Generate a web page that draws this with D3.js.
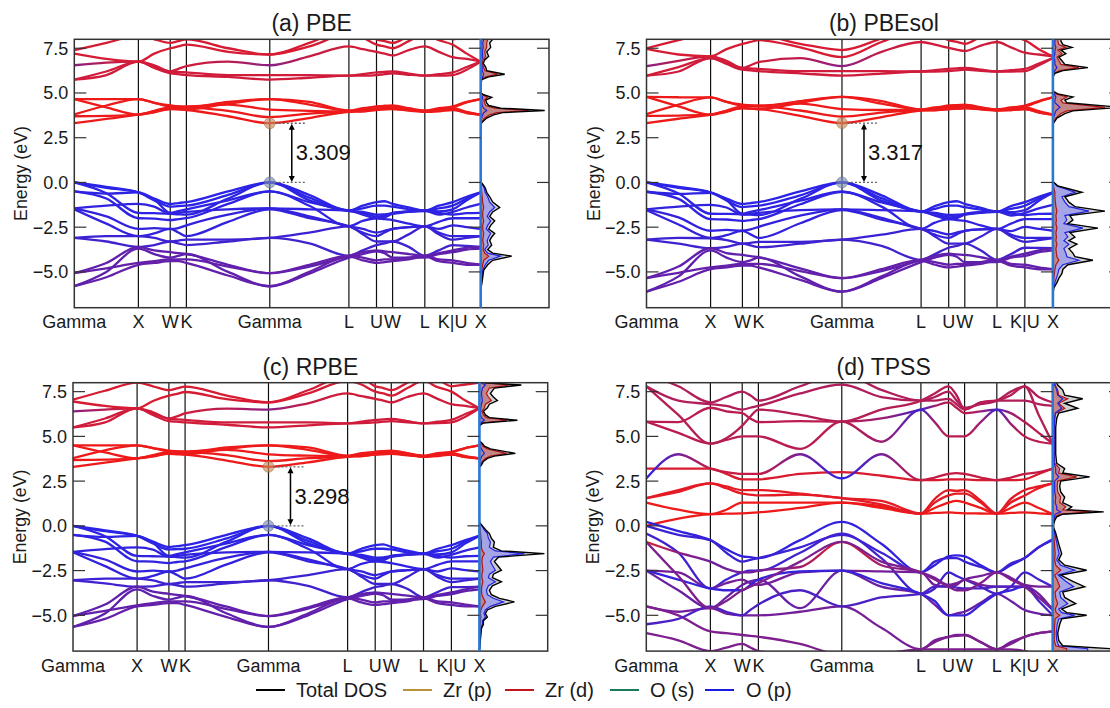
<!DOCTYPE html>
<html><head><meta charset="utf-8">
<script src="https://cdn.jsdelivr.net/npm/d3@7"></script>
<style>
body{margin:0;background:#fff;}
svg{display:block;font-family:"Liberation Sans",Arial,sans-serif;}
</style></head><body>
<svg id="chart" width="1110" height="708"></svg>
<script>
// ---------- DATA ----------
const kLabels = ["Gamma","X","W","K","Gamma","L","U","W","L","K|U","X"];
const kNodes = [0, 0.1577, 0.236, 0.2758, 0.481, 0.6757, 0.7436, 0.7832, 0.8625, 0.9311, 1];
const yTicks = [7.5, 5.0, 2.5, 0.0, -2.5, -5.0];
const yDomain = [-7, 8];
const titles = ["(a) PBE", "(b) PBEsol", "(c) RPBE", "(d) TPSS"];
const gaps = [3.309, 3.317, 3.298, null];
const legendNames = ["Total DOS", "Zr (p)", "Zr (d)", "O (s)", "O (p)"];
const legendColors = ["#000000", "#b8913a", "#c0141e", "#1a7a5a", "#1a1ae0"];

// band energies (eV) sampled at high-symmetry points and segment midpoints
const bandsA = [
[3.31,3.55,3.79,3.95,4.10,4.08,4.05,3.70,3.31,3.60,3.95,3.98,4.05,4.08,4.10,4.02,3.95,3.98,4.05,3.90,3.79],
[3.70,3.72,3.79,4.00,4.20,4.20,4.20,4.00,3.65,3.85,3.97,4.05,4.15,4.18,4.20,4.08,3.97,4.05,4.15,3.95,3.79],
[3.80,4.30,4.66,4.45,4.25,4.25,4.25,4.35,4.07,4.00,3.97,4.10,4.25,4.28,4.25,4.12,3.97,4.10,4.25,4.50,4.66],
[4.66,4.20,3.79,3.92,4.12,4.10,4.08,4.40,4.66,4.35,4.00,3.98,4.08,4.10,4.12,4.05,4.00,4.02,4.08,3.88,3.79],
[4.66,4.66,4.66,4.45,4.30,4.25,4.20,4.50,4.66,4.50,4.02,4.15,4.20,4.28,4.30,4.15,4.02,4.15,4.20,4.48,4.66],
[5.75,6.20,6.75,6.40,6.10,6.05,6.00,5.90,5.75,5.85,5.97,5.97,6.00,6.05,6.10,6.02,5.97,5.97,6.00,6.30,6.75],
[5.75,6.00,6.75,6.50,6.20,6.18,6.15,6.00,6.00,6.00,5.97,6.05,6.15,6.18,6.20,6.08,5.97,6.05,6.15,6.45,6.75],
[6.55,6.70,6.75,6.55,6.20,6.35,6.50,6.75,6.55,7.05,7.60,7.45,7.30,7.20,7.10,7.40,7.60,7.30,7.00,6.90,6.75],
[7.20,6.90,6.75,7.20,7.50,7.60,7.70,7.30,7.15,7.60,8.30,8.10,7.70,7.60,7.50,7.90,8.30,7.95,7.70,7.20,6.75],
[7.40,7.80,8.20,8.00,7.80,7.90,8.00,7.50,7.15,7.80,8.60,8.50,8.00,7.90,7.80,8.20,8.60,8.40,8.00,8.10,8.20],
[0.00,-0.30,-0.56,-0.90,-1.20,-1.15,-1.10,-0.50,0.00,-0.70,-1.57,-1.30,-1.10,-1.05,-1.20,-1.40,-1.57,-1.30,-1.10,-0.80,-0.56],
[0.00,-0.25,-0.56,-1.00,-1.35,-1.32,-1.30,-0.70,0.00,-0.85,-1.57,-1.45,-1.30,-1.30,-1.35,-1.50,-1.57,-1.45,-1.30,-0.90,-0.56],
[0.00,-0.60,-1.70,-1.72,-1.75,-1.78,-1.80,-0.90,0.00,-1.00,-1.60,-1.65,-1.80,-1.78,-1.75,-1.65,-1.60,-1.70,-1.80,-1.72,-1.70],
[-0.50,-0.62,-0.56,-0.95,-1.70,-1.60,-1.50,-1.00,-0.50,-1.10,-1.57,-1.70,-1.90,-1.85,-1.70,-1.62,-1.57,-1.62,-1.50,-1.00,-0.56],
[-0.50,-0.90,-2.00,-2.02,-2.10,-2.05,-2.00,-1.20,-0.50,-1.30,-2.45,-2.15,-2.00,-2.05,-2.10,-2.30,-2.45,-2.20,-2.00,-2.00,-2.00],
[-1.45,-1.30,-1.20,-1.35,-1.75,-1.70,-1.65,-1.50,-1.45,-1.50,-1.57,-1.80,-2.00,-1.95,-1.75,-1.62,-1.57,-1.80,-1.65,-1.40,-1.20],
[-1.45,-1.90,-2.60,-2.55,-2.60,-2.55,-2.40,-1.80,-1.45,-1.90,-2.45,-2.60,-2.80,-2.70,-2.60,-2.50,-2.45,-2.60,-2.40,-2.50,-2.60],
[-1.50,-2.30,-3.00,-2.85,-2.60,-2.80,-3.00,-2.20,-1.50,-2.00,-2.45,-2.80,-3.00,-2.80,-2.60,-2.50,-2.45,-2.80,-3.00,-3.00,-3.00],
[-3.10,-3.00,-3.00,-3.10,-3.30,-3.25,-3.20,-3.20,-3.10,-2.80,-2.45,-2.90,-3.30,-3.30,-3.30,-2.90,-2.45,-2.90,-3.20,-3.10,-3.00],
[-3.10,-3.30,-3.60,-3.50,-3.30,-3.40,-3.50,-3.30,-3.10,-3.40,-4.10,-3.80,-3.50,-3.40,-3.30,-3.60,-4.10,-3.80,-3.50,-3.55,-3.60],
[-5.07,-4.50,-3.60,-3.80,-3.90,-3.95,-4.00,-4.60,-5.07,-4.70,-4.10,-3.90,-3.80,-3.85,-3.90,-4.00,-4.10,-3.95,-3.80,-3.65,-3.60],
[-5.07,-4.80,-4.50,-4.40,-4.30,-4.30,-4.30,-4.70,-5.07,-4.60,-4.10,-4.20,-4.35,-4.30,-4.30,-4.20,-4.10,-4.30,-4.35,-4.50,-4.60],
[-5.80,-5.30,-4.60,-4.50,-4.40,-4.40,-4.50,-5.20,-5.80,-5.00,-4.15,-4.35,-4.50,-4.45,-4.40,-4.30,-4.15,-4.40,-4.50,-4.60,-4.60],
[-5.80,-5.00,-3.70,-4.00,-4.20,-4.10,-4.00,-5.00,-5.80,-5.10,-4.20,-4.00,-3.85,-3.95,-4.20,-4.20,-4.20,-4.00,-3.90,-3.75,-3.70]
];
const bandsB = [
[3.32,3.56,3.79,3.98,4.15,4.12,4.10,3.72,3.32,3.65,4.02,4.05,4.10,4.12,4.15,4.08,4.02,4.05,4.10,3.92,3.79],
[3.72,3.74,3.79,4.02,4.25,4.25,4.25,4.02,3.68,3.90,4.05,4.10,4.20,4.22,4.25,4.12,4.05,4.10,4.20,3.98,3.79],
[3.82,4.35,4.75,4.50,4.30,4.30,4.30,4.40,4.10,4.05,4.05,4.15,4.30,4.32,4.30,4.18,4.05,4.15,4.30,4.55,4.75],
[4.78,4.25,3.79,3.95,4.15,4.13,4.10,4.45,4.78,4.40,4.05,4.03,4.10,4.12,4.15,4.10,4.05,4.05,4.10,3.90,3.79],
[4.78,4.76,4.75,4.50,4.35,4.30,4.25,4.55,4.78,4.55,4.08,4.20,4.25,4.32,4.35,4.20,4.08,4.20,4.25,4.52,4.75],
[5.97,6.45,6.95,6.62,6.30,6.27,6.22,6.10,5.97,6.08,6.20,6.20,6.22,6.26,6.30,6.24,6.20,6.20,6.22,6.55,6.95],
[5.97,6.20,6.95,6.70,6.40,6.38,6.35,6.22,6.22,6.22,6.20,6.27,6.35,6.38,6.40,6.30,6.20,6.27,6.35,6.65,6.95],
[6.50,6.80,7.05,6.80,6.40,6.55,6.72,6.95,6.50,7.30,7.85,7.70,7.52,7.42,7.35,7.65,7.85,7.55,7.25,7.15,7.05],
[7.46,7.15,7.05,7.45,7.75,7.85,7.95,7.55,7.00,7.85,8.55,8.35,7.95,7.85,7.75,8.15,8.55,8.20,7.95,7.45,7.05],
[7.50,7.95,8.40,8.20,8.00,8.10,8.20,7.75,7.40,8.05,8.85,8.75,8.25,8.15,8.05,8.45,8.85,8.65,8.25,8.35,8.40],
[0.00,-0.30,-0.56,-0.90,-1.20,-1.15,-1.10,-0.50,0.00,-0.72,-1.62,-1.32,-1.10,-1.05,-1.20,-1.42,-1.62,-1.32,-1.10,-0.80,-0.56],
[0.00,-0.25,-0.56,-1.00,-1.38,-1.34,-1.30,-0.72,0.00,-0.88,-1.62,-1.48,-1.30,-1.30,-1.38,-1.52,-1.62,-1.48,-1.30,-0.90,-0.56],
[0.00,-0.62,-1.75,-1.76,-1.78,-1.80,-1.82,-0.92,0.00,-1.02,-1.65,-1.70,-1.82,-1.80,-1.78,-1.70,-1.65,-1.74,-1.82,-1.76,-1.75],
[-0.52,-0.64,-0.58,-0.98,-1.75,-1.64,-1.55,-1.02,-0.52,-1.12,-1.62,-1.75,-1.95,-1.90,-1.75,-1.66,-1.62,-1.66,-1.55,-1.02,-0.58],
[-0.52,-0.92,-2.05,-2.07,-2.15,-2.10,-2.05,-1.22,-0.52,-1.35,-2.60,-2.25,-2.05,-2.10,-2.15,-2.40,-2.60,-2.30,-2.05,-2.05,-2.05],
[-1.50,-1.35,-1.25,-1.40,-1.80,-1.75,-1.70,-1.55,-1.50,-1.55,-1.62,-1.85,-2.05,-2.00,-1.80,-1.66,-1.62,-1.85,-1.70,-1.45,-1.25],
[-1.50,-1.95,-2.70,-2.65,-2.70,-2.62,-2.48,-1.85,-1.50,-1.98,-2.60,-2.72,-2.90,-2.80,-2.70,-2.62,-2.60,-2.72,-2.48,-2.60,-2.70],
[-1.55,-2.35,-3.10,-2.95,-2.70,-2.90,-3.10,-2.28,-1.55,-2.08,-2.60,-2.92,-3.10,-2.90,-2.70,-2.62,-2.60,-2.92,-3.10,-3.10,-3.10],
[-3.20,-3.10,-3.12,-3.22,-3.42,-3.38,-3.32,-3.32,-3.20,-2.92,-2.60,-3.02,-3.42,-3.42,-3.42,-3.02,-2.60,-3.02,-3.32,-3.22,-3.12],
[-3.20,-3.42,-3.67,-3.60,-3.42,-3.52,-3.62,-3.42,-3.20,-3.55,-4.33,-4.00,-3.65,-3.55,-3.42,-3.80,-4.33,-4.00,-3.65,-3.66,-3.67],
[-5.35,-4.70,-3.67,-3.95,-4.05,-4.12,-4.18,-4.80,-5.35,-4.95,-4.33,-4.10,-3.98,-4.02,-4.05,-4.18,-4.33,-4.15,-3.98,-3.80,-3.67],
[-5.35,-5.05,-4.75,-4.65,-4.55,-4.55,-4.55,-4.95,-5.35,-4.85,-4.33,-4.45,-4.60,-4.55,-4.55,-4.45,-4.33,-4.55,-4.60,-4.75,-4.85],
[-6.10,-5.55,-4.85,-4.75,-4.65,-4.65,-4.75,-5.45,-6.10,-5.25,-4.38,-4.60,-4.75,-4.70,-4.65,-4.55,-4.38,-4.65,-4.75,-4.85,-4.85],
[-6.10,-5.25,-3.80,-4.20,-4.45,-4.35,-4.20,-5.25,-6.10,-5.35,-4.45,-4.20,-4.05,-4.15,-4.45,-4.45,-4.45,-4.20,-4.10,-3.90,-3.80]
];
const bandsC = [
[3.30,3.53,3.77,3.90,4.02,4.00,3.98,3.65,3.30,3.55,3.86,3.90,3.98,4.00,4.02,3.94,3.86,3.90,3.98,3.85,3.77],
[3.68,3.70,3.77,3.95,4.12,4.12,4.12,3.95,3.62,3.78,3.88,3.96,4.06,4.10,4.12,4.00,3.88,3.96,4.06,3.90,3.77],
[3.78,4.22,4.50,4.35,4.16,4.16,4.16,4.25,4.00,3.92,3.88,4.02,4.14,4.18,4.16,4.04,3.88,4.02,4.14,4.35,4.50],
[4.50,4.10,3.77,3.88,4.05,4.03,4.00,4.30,4.50,4.25,3.90,3.90,4.00,4.03,4.05,3.98,3.90,3.94,4.00,3.84,3.77],
[4.50,4.50,4.50,4.35,4.20,4.16,4.12,4.38,4.50,4.38,3.92,4.06,4.12,4.18,4.20,4.06,3.92,4.06,4.12,4.35,4.50],
[5.50,6.00,6.57,6.20,5.85,5.82,5.78,5.65,5.50,5.62,5.73,5.74,5.78,5.82,5.85,5.78,5.73,5.74,5.78,6.10,6.57],
[5.50,5.78,6.57,6.30,5.98,5.95,5.92,5.78,5.78,5.78,5.73,5.82,5.92,5.95,5.98,5.85,5.73,5.82,5.92,6.25,6.57],
[6.40,6.50,6.57,6.35,6.00,6.12,6.28,6.55,6.50,6.85,7.40,7.25,7.10,7.00,6.90,7.20,7.40,7.10,6.80,6.70,6.57],
[6.95,6.70,6.57,6.98,7.28,7.38,7.48,7.08,6.90,7.40,8.10,7.90,7.50,7.40,7.28,7.70,8.10,7.75,7.50,7.00,6.57],
[7.05,7.55,8.00,7.80,7.58,7.68,7.78,7.28,6.90,7.58,8.40,8.30,7.80,7.70,7.58,8.00,8.40,8.20,7.80,7.90,8.00],
[0.00,-0.30,-0.56,-0.88,-1.18,-1.13,-1.08,-0.50,0.00,-0.70,-1.55,-1.28,-1.08,-1.03,-1.18,-1.38,-1.55,-1.28,-1.08,-0.80,-0.56],
[0.00,-0.25,-0.56,-0.98,-1.32,-1.30,-1.28,-0.70,0.00,-0.84,-1.55,-1.42,-1.28,-1.28,-1.32,-1.48,-1.55,-1.42,-1.28,-0.88,-0.56],
[0.00,-0.58,-1.68,-1.70,-1.72,-1.75,-1.78,-0.88,0.00,-0.98,-1.58,-1.62,-1.78,-1.76,-1.72,-1.62,-1.58,-1.68,-1.78,-1.70,-1.68],
[-0.50,-0.62,-0.56,-0.94,-1.68,-1.58,-1.48,-0.98,-0.50,-1.08,-1.55,-1.68,-1.88,-1.82,-1.68,-1.60,-1.55,-1.60,-1.48,-0.98,-0.56],
[-0.50,-0.88,-1.98,-2.00,-2.08,-2.02,-1.98,-1.18,-0.50,-1.28,-2.42,-2.12,-1.98,-2.02,-2.08,-2.28,-2.42,-2.18,-1.98,-1.98,-1.98],
[-1.45,-1.30,-1.20,-1.33,-1.72,-1.68,-1.62,-1.48,-1.45,-1.48,-1.55,-1.78,-1.98,-1.92,-1.72,-1.60,-1.55,-1.78,-1.62,-1.38,-1.20],
[-1.45,-1.88,-2.55,-2.50,-2.55,-2.50,-2.38,-1.78,-1.45,-1.88,-2.42,-2.55,-2.75,-2.65,-2.55,-2.48,-2.42,-2.55,-2.38,-2.48,-2.55],
[-1.48,-2.25,-2.95,-2.80,-2.55,-2.75,-2.95,-2.15,-1.48,-1.98,-2.42,-2.75,-2.95,-2.75,-2.55,-2.48,-2.42,-2.75,-2.95,-2.95,-2.95],
[-3.04,-2.95,-2.95,-3.05,-3.25,-3.20,-3.15,-3.15,-3.04,-2.75,-2.42,-2.85,-3.25,-3.25,-3.25,-2.85,-2.42,-2.85,-3.15,-3.05,-2.95],
[-3.04,-3.22,-3.40,-3.38,-3.25,-3.32,-3.40,-3.22,-3.04,-3.35,-4.00,-3.70,-3.42,-3.35,-3.25,-3.52,-4.00,-3.70,-3.42,-3.42,-3.40],
[-5.04,-4.40,-3.40,-3.68,-3.80,-3.86,-3.92,-4.52,-5.04,-4.62,-4.00,-3.82,-3.72,-3.76,-3.80,-3.90,-4.00,-3.86,-3.72,-3.55,-3.40],
[-5.04,-4.75,-4.44,-4.32,-4.22,-4.22,-4.22,-4.65,-5.04,-4.55,-4.00,-4.12,-4.28,-4.22,-4.22,-4.12,-4.00,-4.22,-4.28,-4.40,-4.50],
[-5.65,-5.20,-4.50,-4.42,-4.32,-4.32,-4.42,-5.10,-5.65,-4.90,-4.05,-4.28,-4.42,-4.38,-4.32,-4.22,-4.05,-4.32,-4.42,-4.50,-4.50],
[-5.65,-4.90,-3.55,-3.92,-4.12,-4.02,-3.92,-4.90,-5.65,-5.00,-4.10,-3.92,-3.78,-3.88,-4.12,-4.12,-4.10,-3.92,-3.82,-3.65,-3.55]
];
const bandsD = [
[0.00,0.40,0.65,0.68,0.70,0.72,0.75,1.00,1.30,1.00,0.68,0.72,0.75,0.72,0.70,0.69,0.68,0.72,0.75,0.70,0.65],
[1.30,0.90,0.65,0.90,1.30,1.30,1.30,1.30,1.30,1.10,0.68,1.00,1.30,1.40,1.30,1.00,0.68,1.00,1.30,1.00,0.65],
[1.55,2.00,2.37,2.10,1.80,1.75,1.70,1.75,1.55,1.20,0.68,1.30,1.70,1.80,1.80,1.30,0.68,1.30,1.70,2.10,2.37],
[1.55,1.90,2.37,2.20,2.00,2.00,2.00,1.80,1.55,1.40,0.70,1.50,2.00,1.95,2.00,1.40,0.70,1.50,2.00,2.20,2.37],
[3.20,3.20,3.20,2.90,2.60,2.60,2.60,2.90,3.00,2.80,2.55,2.55,2.60,2.60,2.60,2.55,2.55,2.55,2.60,2.90,3.20],
[2.65,4.00,3.20,3.00,2.90,2.90,2.90,4.00,2.65,4.00,2.55,2.70,2.90,2.95,2.90,2.70,2.55,2.70,2.90,3.00,3.20],
[5.82,5.20,4.60,4.80,5.00,5.00,5.00,4.30,5.82,4.70,6.50,5.80,5.00,5.00,5.00,5.80,6.50,5.70,5.00,4.70,4.60],
[5.82,5.80,6.60,6.40,6.30,6.00,5.80,5.85,5.82,6.00,6.50,6.70,6.90,6.60,6.30,6.40,6.50,6.30,5.80,5.20,4.60],
[7.80,7.00,6.80,6.70,6.50,6.60,6.70,7.40,7.90,7.20,7.00,7.00,7.10,6.80,6.50,6.90,7.00,7.00,7.00,6.80,6.70],
[8.50,7.80,6.90,7.20,7.50,7.30,7.00,7.80,8.50,7.60,7.00,7.20,7.50,7.00,6.60,6.80,7.00,7.50,7.80,7.20,6.90],
[0.22,-0.30,-0.80,-1.30,-1.70,-1.75,-1.80,-0.80,0.22,-1.00,-2.60,-2.20,-1.70,-1.65,-1.70,-2.20,-2.60,-2.20,-1.80,-1.20,-0.75],
[0.00,-0.50,-0.80,-1.50,-2.00,-1.90,-1.80,-1.20,-0.50,-1.50,-2.60,-2.00,-1.80,-1.80,-2.00,-2.30,-2.60,-2.10,-1.80,-1.20,-0.80],
[-0.43,-1.50,-3.50,-3.00,-2.60,-2.50,-2.50,-1.50,-0.43,-1.80,-3.80,-3.50,-2.60,-2.80,-3.00,-3.40,-3.80,-3.40,-2.60,-3.00,-3.40],
[-0.90,-1.50,-2.00,-2.40,-2.60,-2.60,-2.50,-2.30,-0.90,-2.20,-2.60,-2.90,-3.30,-3.20,-3.00,-2.80,-2.60,-2.90,-3.30,-3.40,-3.40],
[-2.50,-2.60,-3.50,-3.20,-3.00,-3.20,-3.30,-2.60,-2.50,-2.55,-2.60,-3.30,-3.40,-3.30,-3.00,-3.30,-3.40,-3.40,-3.40,-3.80,-4.70],
[-2.50,-3.60,-4.60,-4.00,-3.30,-3.10,-3.00,-4.60,-2.50,-3.40,-3.80,-4.40,-5.00,-4.90,-4.80,-4.30,-3.80,-4.20,-4.70,-4.90,-5.00],
[-4.50,-4.80,-4.60,-4.90,-5.00,-5.00,-5.00,-4.80,-4.50,-5.70,-6.90,-6.40,-6.20,-6.10,-6.10,-6.50,-6.90,-6.50,-6.20,-6.00,-5.90],
[-4.50,-5.00,-5.90,-6.00,-6.10,-6.15,-6.20,-6.60,-7.20,-7.10,-6.90,-6.50,-6.20,-6.15,-6.10,-6.50,-6.90,-6.60,-6.20,-6.00,-5.90],
[-2.50,-3.00,-3.50,-3.60,-3.60,-3.30,-3.00,-2.55,-2.50,-3.20,-3.80,-4.20,-5.00,-5.00,-5.00,-4.40,-3.80,-3.60,-3.40,-4.00,-4.70],
[-6.00,-6.40,-7.00,-6.80,-6.60,-6.80,-7.00,-7.20,-7.50,-7.20,-6.90,-6.90,-6.90,-6.90,-6.90,-6.90,-6.90,-6.90,-7.00,-7.20,-7.50],
[-5.50,-5.20,-4.50,-4.80,-5.00,-4.70,-4.40,-3.60,-4.50,-4.00,-3.80,-3.40,-3.40,-3.45,-3.50,-3.50,-3.40,-3.40,-3.40,-4.20,-5.00],
[7.80,6.20,4.60,4.90,5.60,6.10,6.50,6.20,5.82,6.50,7.00,7.40,7.80,7.30,6.50,6.90,7.00,7.30,7.80,6.20,4.60],
[-0.90,-2.80,-4.60,-4.20,-3.60,-3.40,-3.20,-2.00,-0.90,-2.00,-2.60,-3.00,-3.40,-3.60,-3.60,-3.20,-2.60,-3.00,-3.40,-4.00,-4.60]
];

// Zr(d) character of each band (0 = O p, 1 = Zr d); single value or one per k-sample
const wDip = [0.5,0.75,0.85,0.85,0.85,0.85,0.85,0.75,0.5,0.8,0.85,0.85,0.85,0.85,0.85,0.85,0.85,0.85,0.85,0.85,0.85];
const wABC = [1,1,1,1,1, 0.85,0.85,wDip,0.88,0.88, 0.04,0.04,0.05,0.05,0.06,0.07,0.08,0.08,0.12,0.15, 0.3,0.32,0.32,0.3];
const wD6 = [0.05,0.4,0.8,0.8,0.8,0.8,0.8,0.4,0.05,0.4,0.8,0.8,0.8,0.8,0.8,0.8,0.8,0.8,0.8,0.8,0.8];
const wD7 = [0.75,0.75,0.75,0.75,0.75,0.75,0.75,0.75,0.75,0.6,0.15,0.6,0.75,0.75,0.75,0.6,0.15,0.6,0.75,0.75,0.75];
const wD14 = [0.95,0.5,0.4,0.4,0.4,0.4,0.4,0.6,0.95,0.6,0.4,0.4,0.4,0.4,0.4,0.4,0.4,0.4,0.4,0.4,0.4];
const wDD = [1,1,0.95,0.95,0.9,wD6,wD7,wD7,0.7,0.7, 0.08,0.12,0.15,wD14,0.4,0.35,0.4,0.45,0.1,0.45,0.2,0.72,0.45];

// densities of states (arbitrary units)
const dosE_A = [8.0,7.8,7.55,7.3,7.05,6.85,6.65,6.45,6.25,6.05,5.9,5.75,5.5,5.0,4.9,4.75,4.6,4.45,4.3,4.15,4.02,3.9,3.78,3.6,3.4,3.25,0.05,-0.1,-0.3,-0.55,-0.8,-1.1,-1.4,-1.65,-1.9,-2.15,-2.4,-2.6,-2.85,-3.05,-3.25,-3.5,-3.75,-3.95,-4.12,-4.35,-4.6,-4.9,-5.3,-5.7,-6.0,-7.0];
const dosTot_A = [12,9,10,6,8,4,2.5,5,6,24,8,1,0.5,0.5,3,11,5,6,8,20,64,22,13,6,2,0,0,2,4.5,6,9,12,19,12,9,14,10,8,14,11,9,11,7,12,31,12,7,3,2,1,0,0];
const dosZrd_A = [7,6,6,4,5,2.5,1.5,3,4,17,5,0.5,0.3,0.3,2,7,3,4,5,14,48,16,9,4,1.5,0,0,0.3,0.6,1,1.5,2,3,2,2,3,2,2,3,2.5,2,3,2.5,4,8,3,2,1,0.5,0.2,0,0];
const dosOp_A = [3,2,2.5,1.5,2,1,0.7,1.5,1.5,3,2,0.3,0.1,0.1,0.5,2,1,1.2,1.5,3,6,3,2,1,0.3,0,0,1.5,3.5,4.5,7,9,14,9,6.5,10,7,5.5,10,8,6.5,7.5,4,7,20,8,4.5,2,1.2,0.6,0,0];

const dosE_B = [8.0,7.9,7.7,7.55,7.4,7.2,7.0,6.8,6.6,6.42,6.25,6.1,5.9,5.1,4.95,4.78,4.6,4.45,4.2,4.0,3.85,3.6,3.35,3.25,0.05,-0.2,-0.55,-0.8,-1.1,-1.35,-1.6,-1.85,-2.1,-2.3,-2.55,-2.8,-3.05,-3.25,-3.45,-3.7,-3.95,-4.15,-4.35,-4.6,-4.85,-5.1,-5.35,-5.6,-5.9,-6.2,-7.0];
const dosTot_B = [8,8,10,19,8,13,6,9,12,35,10,2,0,0,5,20,12,14,68,20,12,4,1,0,0,5,29,12,16,22,52,17,20,15,45,17,22,16,24,16,20,22,40,15,10,9,6,4,1,0,0];
const dosZrd_B = [5,5,6,13,5,9,4,6,8,26,7,1,0,0,3,14,8,10,52,14,8,3,0.5,0,0,0.5,2,2,2.5,3,4,3,3.5,3,4,3,3.5,3,4,3,3.5,4,6,3,2,1.5,1,0.5,0.2,0,0];
const dosOp_B = [2,2,2,3,2,2,1,2,2,4,2,0.5,0,0,1,3,2,2,7,3,2,0.5,0.2,0,0,4,22,9,12,16,36,12,14,11,30,12,15,11,16,11,13,14,26,10,6,5,3.5,2,0.5,0,0];

const dosE_C = [8.0,7.87,7.7,7.4,7.2,7.0,6.8,6.6,6.4,6.2,6.05,5.9,5.75,5.6,4.75,4.6,4.45,4.3,4.05,3.9,3.77,3.6,3.4,3.28,0.2,0.0,-0.2,-0.43,-0.7,-0.9,-1.2,-1.4,-1.55,-1.75,-2.0,-2.2,-2.48,-2.7,-2.9,-3.13,-3.35,-3.6,-3.85,-4.05,-4.25,-4.5,-4.7,-4.9,-5.1,-5.3,-5.5,-5.75,-7.0];
const dosTot_C = [5,42,15,11,14,18,10,8,4,6,10,38,4,0,0,3,5,11,36,15,8,4,2,0,0,3,6,10,12,15,14,22,65,19,15,18,22,14,13,22,13,10,12,20,35,16,8,6,8,4,4,2,0];
const dosZrd_C = [3,30,10,7,9,12,6,5,2.5,4,7,28,2.5,0,0,2,3.5,8,27,11,6,3,1,0,0,0.3,0.8,1.2,1.5,2,2,3,5,3,2.5,3,3.5,2.5,2.5,3.5,2.5,2,2.5,4,6,3,1.5,1,1.5,1,0.8,0.4,0];
const dosOp_C = [1.5,6,3,2,2.5,3,2,1.5,1,1,2,5,1,0,0,0.5,1,2,5,2.5,1.5,0.5,0.3,0,0,2.5,4.5,8,9,11,10,16,45,14,11,13,16,10,9,16,9,7,8,14,24,11,6,4.5,6,3,3,1.5,0];

const dosE_D = [8.0,7.87,7.6,7.3,7.1,6.85,6.57,6.3,6.0,5.5,5.0,4.5,4.0,3.5,3.2,2.95,2.74,2.5,2.2,1.9,1.6,1.3,1.06,0.9,0.78,0.65,0.5,0.3,0.1,-0.1,-0.4,-0.8,-1.2,-1.55,-1.9,-2.2,-2.48,-2.75,-3.1,-3.4,-3.7,-4.0,-4.35,-4.65,-4.85,-5.0,-5.2,-5.5,-6.0,-6.4,-6.7,-6.87,-7.0];
const dosTot_D = [4,5,10,12,30,12,25,6,4,3,3,3,3,4,12,10,37,8,7,8,12,10,19,15,51,10,4,2,1,1,3,5,7,9,6,12,34,8,20,32,10,12,23,9,14,34,9,7,5,6,10,60,60];
const dosZrd_D = [2,2.5,5,6,15,6,12,3,2,1.5,1.5,1.5,1.5,2,7,6,24,5,4.5,5,8,7,13,10,38,7,2.5,1,0.5,0.5,1,1.5,2,2.5,2,3,8,2,5,7,2.5,3,5,2.5,3.5,7,2.5,2,1.5,1.5,3,14,14];
const dosOp_D = [1.5,2,4,5,10,5,9,2.5,2,1.5,1.5,1.5,1.5,1.5,3,3,6,2,2,2,3,2.5,4,4,8,2.5,1.5,1,0.5,0.5,2,3.5,5,6.5,4,8,22,5.5,13,21,7,8,15,6,9,22,6,4.5,3.5,4,6,35,35];

// ---------- LAYOUT ----------
const panels = [
  {left: 74.3, top: 39.3, bands: bandsA, w: wABC, dosE: dosE_A, tot: dosTot_A, zrd: dosZrd_A, op: dosOp_A},
  {left: 646.5, top: 39.3, bands: bandsB, w: wABC, dosE: dosE_B, tot: dosTot_B, zrd: dosZrd_B, op: dosOp_B},
  {left: 73.0, top: 382.7, bands: bandsC, w: wABC, dosE: dosE_C, tot: dosTot_C, zrd: dosZrd_C, op: dosOp_C},
  {left: 646.3, top: 382.7, bands: bandsD, w: wDD, dosE: dosE_D, tot: dosTot_D, zrd: dosZrd_D, op: dosOp_D}
];
const bandW = 406.4, dosW = 68.3, H = 268.4;
const dosMax = 68.3;

const kSample = [];
kNodes.forEach((k, i) => { kSample.push(k); if (i < kNodes.length - 1) kSample.push((k + kNodes[i + 1]) / 2); });

const svg = d3.select("#chart");
const defs = svg.append("defs");
const colorW = w => d3.interpolateRgb("#2323ee", "#ee1a1a")(w);

panels.forEach((p, pi) => {
  const x = d3.scaleLinear().domain([0, 1]).range([p.left, p.left + bandW]);
  const y = d3.scaleLinear().domain(yDomain).range([p.top + H, p.top]);
  const xLine = p.left + bandW;
  const xd = d3.scaleLinear().domain([0, dosMax]).range([xLine, xLine + dosW]);
  const g = svg.append("g");

  defs.append("clipPath").attr("id", "cb" + pi).append("rect")
    .attr("x", p.left).attr("y", p.top).attr("width", bandW).attr("height", H);
  defs.append("clipPath").attr("id", "cd" + pi).append("rect")
    .attr("x", xLine).attr("y", p.top).attr("width", dosW).attr("height", H);

  // vertical k lines
  g.append("g").selectAll("line").data(kNodes.slice(1, -1)).join("line")
    .attr("x1", d => x(d)).attr("x2", d => x(d))
    .attr("y1", p.top).attr("y2", p.top + H)
    .attr("stroke", "#111").attr("stroke-width", 1.2);

  // bands
  const line = d3.line().x((d, i) => x(kSample[i])).y(d => y(d)).curve(d3.curveMonotoneX);
  const bg = g.append("g").attr("clip-path", `url(#cb${pi})`);
  p.bands.forEach((b, bi) => {
    const w = p.w[bi];
    let stroke;
    if (Array.isArray(w)) {
      const id = `gr${pi}_${bi}`;
      const gr = defs.append("linearGradient").attr("id", id)
        .attr("gradientUnits", "userSpaceOnUse")
        .attr("x1", x(0)).attr("x2", x(1)).attr("y1", 0).attr("y2", 0);
      w.forEach((wv, i) => gr.append("stop").attr("offset", kSample[i]).attr("stop-color", colorW(wv)));
      stroke = `url(#${id})`;
    } else stroke = colorW(w);
    bg.append("path").attr("d", line(b)).attr("fill", "none")
      .attr("stroke", stroke).attr("stroke-width", 2.3).attr("stroke-linejoin", "round");
  });

  // DOS
  const dg = g.append("g").attr("clip-path", `url(#cd${pi})`);
  const area = vals => d3.area().y((d, i) => y(p.dosE[i])).x0(xLine).x1((d) => xd(d))(vals);
  const ln = vals => d3.line().y((d, i) => y(p.dosE[i])).x(d => xd(d))(vals);
  dg.append("path").attr("d", area(p.tot)).attr("fill", "#cfcfcf");
  dg.append("path").attr("d", area(p.op)).attr("fill", "#a4a4e6");
  dg.append("path").attr("d", area(p.zrd)).attr("fill", "#c38585");
  dg.append("path").attr("d", ln(p.zrd)).attr("fill", "none").attr("stroke", "#b01515").attr("stroke-width", 1.2);
  dg.append("path").attr("d", ln(p.op)).attr("fill", "none").attr("stroke", "#2222e0").attr("stroke-width", 1.2);
  dg.append("path").attr("d", ln(p.tot)).attr("fill", "none").attr("stroke", "#000").attr("stroke-width", 1.4);

  // frames
  g.append("rect").attr("x", p.left).attr("y", p.top).attr("width", bandW + dosW).attr("height", H)
    .attr("fill", "none").attr("stroke", "#333").attr("stroke-width", 1.5);
  g.append("line").attr("x1", xLine).attr("x2", xLine).attr("y1", p.top).attr("y2", p.top + H)
    .attr("stroke", "#2a78d6").attr("stroke-width", 2.6);

  // ticks (inward)
  yTicks.forEach(t => {
    const yy = y(t);
    g.append("line").attr("x1", p.left).attr("x2", p.left + 12).attr("y1", yy).attr("y2", yy).attr("stroke", "#333").attr("stroke-width", 1.2);
    g.append("line").attr("x1", xLine - 12).attr("x2", xLine).attr("y1", yy).attr("y2", yy).attr("stroke", "#333").attr("stroke-width", 1.2);
    g.append("line").attr("x1", xLine + dosW - 12).attr("x2", xLine + dosW).attr("y1", yy).attr("y2", yy).attr("stroke", "#333").attr("stroke-width", 1.2);
    g.append("text").attr("x", p.left - 6).attr("y", yy + 6.4).attr("text-anchor", "end")
      .attr("font-size", 18).attr("fill", "#1a1a1a").text(d3.format(".1f")(t));
  });

  // x labels
  kNodes.forEach((k, i) => {
    g.append("text").attr("x", x(k)).attr("y", p.top + H + 20.5).attr("text-anchor", "middle")
      .attr("font-size", 18).attr("fill", "#1a1a1a").text(kLabels[i]);
  });

  // y label
  g.append("text").attr("transform", `translate(${p.left - 53},${p.top + H / 2}) rotate(-90)`)
    .attr("text-anchor", "middle").attr("dominant-baseline", "central")
    .attr("font-size", 17.8).attr("fill", "#1a1a1a").text("Energy (eV)");

  // title
  g.append("text").attr("x", p.left + (bandW + dosW) / 2).attr("y", p.top - 8).attr("text-anchor", "middle")
    .attr("font-size", 23).attr("fill", "#1a1a1a").text(titles[pi]);

  // gap annotation
  if (gaps[pi] !== null) {
    const gx = x(kNodes[4]);
    const yc = y(gaps[pi]), yv = y(0);
    [yc, yv].forEach(yy => g.append("line").attr("x1", gx + 5).attr("x2", gx + 37).attr("y1", yy).attr("y2", yy)
      .attr("stroke", "#666").attr("stroke-width", 1.3).attr("stroke-dasharray", "2,2"));
    g.append("circle").attr("cx", gx).attr("cy", yc).attr("r", 5.5).attr("fill", "#c88a5c").attr("fill-opacity", 0.65).attr("stroke", "#a06a40").attr("stroke-opacity", 0.5);
    g.append("circle").attr("cx", gx).attr("cy", yv).attr("r", 5.5).attr("fill", "#7a8cb0").attr("fill-opacity", 0.65).attr("stroke", "#556688").attr("stroke-opacity", 0.5);
    const ax = gx + 22;
    g.append("line").attr("x1", ax).attr("x2", ax).attr("y1", yc + 4).attr("y2", yv - 4).attr("stroke", "#000").attr("stroke-width", 1.5);
    g.append("path").attr("d", `M${ax},${yc + 0.5} l-3,6 l6,0 z`).attr("fill", "#000");
    g.append("path").attr("d", `M${ax},${yv - 0.5} l-3,-6 l6,0 z`).attr("fill", "#000");
    g.append("text").attr("x", gx + 26).attr("y", (yc + yv) / 2).attr("dominant-baseline", "central")
      .attr("font-size", 22).attr("fill", "#111").text(d3.format(".3f")(gaps[pi]));
  }
});

// legend
const legLineX = [256, 403, 505, 610, 705];
const legTextX = [296, 443, 545, 650, 746];
const lg = svg.append("g");
legendNames.forEach((n, i) => {
  lg.append("line").attr("x1", legLineX[i]).attr("x2", legLineX[i] + 29).attr("y1", 690).attr("y2", 690)
    .attr("stroke", legendColors[i]).attr("stroke-width", 2);
  lg.append("text").attr("x", legTextX[i]).attr("y", 697).attr("font-size", 20).attr("fill", "#1a1a1a").text(n);
});
</script>
</body></html>
